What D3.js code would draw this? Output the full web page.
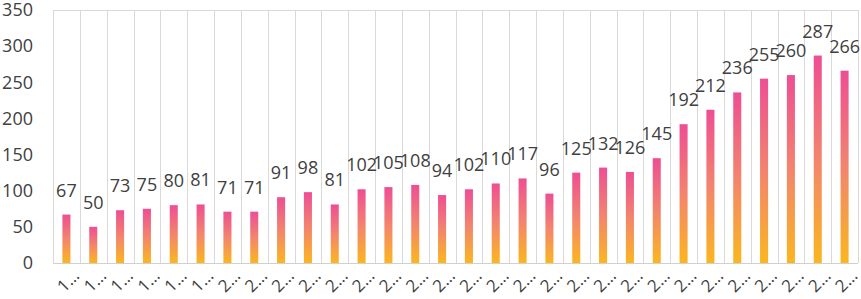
<html>

<head>
  <script src="https://d3js.org/d3.v7.min.js"></script>
  <style>
    body { margin: 0; background: #fff; }
    text { font-family: "Open Sans", sans-serif; fill: #404040; }
  </style>
</head>

<body>
  <svg id="chart" width="861" height="299"></svg>
  <script>
    const categories = ["1…", "1…", "1…", "1…", "1…", "1…", "2…", "2…", "2…", "2…",
      "2…", "2…", "2…", "2…", "2…", "2…", "2…", "2…", "2…", "2…",
      "2…", "2…", "2…", "2…", "2…", "2…", "2…", "2…", "2…", "2…"]
    const values = [67, 50, 73, 75, 80, 81, 71, 71, 91, 98,
      81, 102, 105, 108, 94, 102, 110, 117, 96, 125,
      132, 126, 145, 192, 212, 236, 255, 260, 287, 266]
    const yTicks = [0, 50, 100, 150, 200, 250, 300, 350]

    const svg = d3.select('#chart')
    const margin = { top: 10, right: 3, bottom: 36, left: 53 }
    const width = +svg.attr("width")
    const height = +svg.attr("height")
    const chartWidth = width - margin.left - margin.right
    const chartHeight = height - margin.top - margin.bottom

    const defs = svg.append("defs")
    const grad = defs.append("linearGradient")
      .attr("id", "barGrad")
      .attr("x1", 0).attr("y1", 0).attr("x2", 0).attr("y2", 1)
    grad.append("stop").attr("offset", "0%").attr("stop-color", "#ee4e93")
    grad.append("stop").attr("offset", "50%").attr("stop-color", "#f3846e")
    grad.append("stop").attr("offset", "100%").attr("stop-color", "#fbb61f")

    const idx = d3.range(values.length)
    const xScale = d3.scaleBand().domain(idx).range([0, chartWidth]).paddingInner(0.7).paddingOuter(0.35)
    const bandScale = d3.scaleBand().domain(idx).range([0, chartWidth])
    const yScale = d3.scaleLinear().domain([0, 350]).range([chartHeight, 0])

    const chartArea = svg.append("g")
      .attr("transform", `translate(${margin.left},${margin.top})`)

    // vertical gridlines between categories
    chartArea.append("g").selectAll("line")
      .data(d3.range(values.length + 1))
      .join("line")
      .attr("x1", i => Math.round(i * bandScale.step()) + 0.5)
      .attr("x2", i => Math.round(i * bandScale.step()) + 0.5)
      .attr("y1", 0)
      .attr("y2", chartHeight)
      .style("stroke", "#d9d9d9")

    chartArea.append("line")
      .attr("x1", 0).attr("x2", chartWidth)
      .attr("y1", 0.5).attr("y2", 0.5)
      .style("stroke", "#d9d9d9")

    chartArea.append("line")
      .attr("x1", 0).attr("x2", chartWidth)
      .attr("y1", chartHeight + 0.5).attr("y2", chartHeight + 0.5)
      .style("stroke", "#d0d0d0")

    // y axis labels
    const yAxis = d3.axisLeft(yScale).tickValues(yTicks).tickSize(0).tickPadding(20)
    const yG = chartArea.append("g").call(yAxis)
    yG.select(".domain").remove()
    yG.selectAll("text")
      .style("font-size", "18px")
      .style("font-family", "'Open Sans', sans-serif")
      .style("fill", "#404040")

    // bars
    chartArea.selectAll("rect.bar").data(values)
      .join("rect")
      .attr("class", "bar")
      .attr("x", (d, i) => xScale(i))
      .attr("width", xScale.bandwidth())
      .attr("y", d => yScale(d))
      .attr("height", d => chartHeight - yScale(d))
      .style("fill", "url(#barGrad)")

    // data labels
    chartArea.selectAll("text.lbl").data(values)
      .join("text")
      .attr("class", "lbl")
      .attr("x", (d, i) => xScale(i) + xScale.bandwidth() / 2)
      .attr("y", d => yScale(d) - 18)
      .attr("text-anchor", "middle")
      .style("font-size", "18px")
      .text(d => d)

    // x labels rotated
    chartArea.selectAll("text.xl").data(categories)
      .join("text")
      .attr("class", "xl")
      .attr("text-anchor", "end")
      .attr("transform", (d, i) => `translate(${xScale(i) + xScale.bandwidth() / 2 + 14},${chartHeight + 14}) rotate(-45)`)
      .style("font-size", "17px")
      .text(d => d)
  </script>
</body>

</html>
